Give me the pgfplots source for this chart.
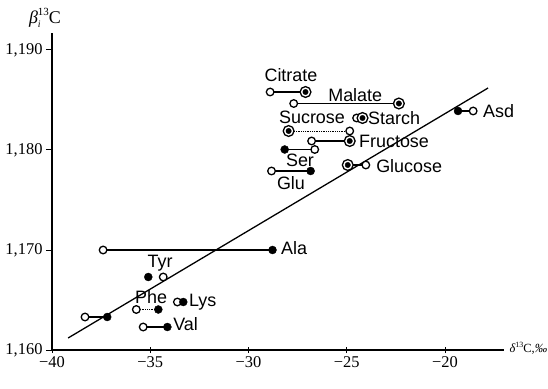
\documentclass[border=0pt]{standalone}
\usepackage{fontspec}
\setmainfont{Liberation Serif}
\newfontfamily\labfont{Liberation Sans}
\usepackage{pgfplots}
\pgfplotsset{compat=1.18}
\begin{document}
\begin{tikzpicture}[x=1bp,y=1bp]
\begin{axis}[
  at={(0,0)}, anchor=south west,
  scale only axis, width=452bp, height=317bp,
  xmin=-40, xmax=-17, ymin=1.160, ymax=1.1917,
  axis lines=left,
  axis line style={-, line width=1.4pt},
  xtick={-40,-35,-30,-25,-20},
  xticklabels={−40,−35,−30,−25,−20},
  ytick={1.16,1.17,1.18,1.19},
  yticklabels={{1,160},{1,170},{1,180},{1,190}},
  tick label style={font=\fontsize{16.5}{18}\selectfont},
  xtick align=center, ytick align=outside,
  major tick length=6bp,
  tick style={black, line width=1pt},
  clip=false,
]
% regression line
\addplot[black, line width=1.3pt] coordinates {(-39.18,1.1612) (-17.81,1.1862)};
% pair connecting lines
\addplot[black, line width=1.2pt] coordinates {(-28.9,1.1858) (-27.1,1.1858)};
\addplot[black, line width=1.2pt] coordinates {(-27.7,1.18465) (-22.35,1.18465)};
\addplot[black, line width=0.8pt, densely dotted] coordinates {(-27.96,1.1819) (-24.85,1.1819)};
\addplot[black, line width=1.2pt] coordinates {(-26.79,1.1809) (-24.85,1.1809)};
\addplot[black, line width=1.2pt] coordinates {(-28.16,1.18005) (-26.63,1.18005)};
\addplot[black, line width=1.2pt] coordinates {(-28.83,1.1779) (-26.84,1.1779)};
\addplot[black, line width=1.2pt] coordinates {(-24.95,1.1785) (-24.03,1.1785)};
\addplot[black, line width=1.2pt] coordinates {(-19.34,1.1839) (-18.57,1.1839)};
\addplot[black, line width=1.2pt] coordinates {(-37.4,1.170) (-28.78,1.170)};
\addplot[black, line width=0.8pt, densely dotted] coordinates {(-35.71,1.16405) (-34.59,1.16405)};
\addplot[black, line width=1.2pt] coordinates {(-35.36,1.1623) (-34.13,1.1623)};
\addplot[black, line width=1.2pt] coordinates {(-38.32,1.1633) (-37.19,1.1633)};
% open circles
\addplot[only marks, mark=*, mark size=3.8bp, mark options={fill=white, draw=black, line width=1.3pt}] coordinates {
(-28.9,1.1858) (-27.7,1.18465) (-24.5,1.1832) (-24.85,1.1819) (-26.79,1.1809)
(-26.63,1.18005) (-28.83,1.1779) (-24.03,1.1785) (-18.57,1.1839) (-37.4,1.170)
(-34.34,1.1673) (-35.71,1.16405) (-33.62,1.1648) (-35.36,1.1623) (-38.32,1.1633)};
% filled circles
\addplot[only marks, mark=*, mark size=4bp, mark options={fill=black, draw=black}] coordinates {
(-28.16,1.18005) (-26.84,1.1779) (-19.34,1.1839) (-28.78,1.170) (-35.1,1.1673)
(-34.59,1.16405) (-33.32,1.1648) (-34.13,1.1623) (-37.19,1.1633)};
% bullseye markers
\addplot[only marks, mark=*, mark size=5.4bp, mark options={fill=white, draw=black, line width=1.3pt}] coordinates {
(-27.1,1.1858) (-22.35,1.18465) (-24.2,1.1832) (-27.96,1.1819) (-24.85,1.1809) (-24.95,1.1785)};
\addplot[only marks, mark=*, mark size=2.7bp, mark options={fill=black, draw=black}] coordinates {
(-27.1,1.1858) (-22.35,1.18465) (-24.2,1.1832) (-27.96,1.1819) (-24.85,1.1809) (-24.95,1.1785)};
% labels
\begin{scope}[every node/.style={font=\labfont\fontsize{18}{20}\selectfont, inner sep=0pt}]
\node at (axis cs:-27.84,1.1875) {Citrate};
\node[anchor=west] at (axis cs:-25.95,1.1855) {Malate};
\node at (axis cs:-26.77,1.1833) {Sucrose};
\node[anchor=west] at (axis cs:-23.92,1.1832) {Starch};
\node[anchor=west] at (axis cs:-24.38,1.1809) {Fructose};
\node at (axis cs:-27.38,1.1790) {Ser};
\node at (axis cs:-27.84,1.1767) {Glu};
\node[anchor=west] at (axis cs:-23.51,1.1784) {Glucose};
\node[anchor=west] at (axis cs:-18.07,1.1839) {Asd};
\node[anchor=west] at (axis cs:-28.35,1.1702) {Ala};
\node at (axis cs:-34.50,1.1687) {Tyr};
\node at (axis cs:-34.96,1.1653) {Phe};
\node[anchor=west] at (axis cs:-33.03,1.1648) {Lys};
\node[anchor=west] at (axis cs:-33.84,1.1626) {Val};
\end{scope}
% axis titles
\node[font=\fontsize{18}{20}\selectfont, inner sep=0pt] at (axis description cs:-0.0155,1.047)
  {{\itshape β}\rlap{\raisebox{-4bp}{\fontsize{10}{10}\selectfont\itshape i}}\raisebox{8bp}{\fontsize{11}{11}\selectfont 13}C};
\node[font=\fontsize{12.5}{14}\selectfont, inner sep=0pt, anchor=west] at (axis description cs:1.012,0.006)
  {{\itshape δ}\raisebox{5.5bp}{\fontsize{8}{9}\selectfont 13}C,{\itshape ‰}};
\end{axis}
\pgfresetboundingbox
\path (-52bp,-39bp) rectangle (496bp,350bp);
\end{tikzpicture}
\end{document}
